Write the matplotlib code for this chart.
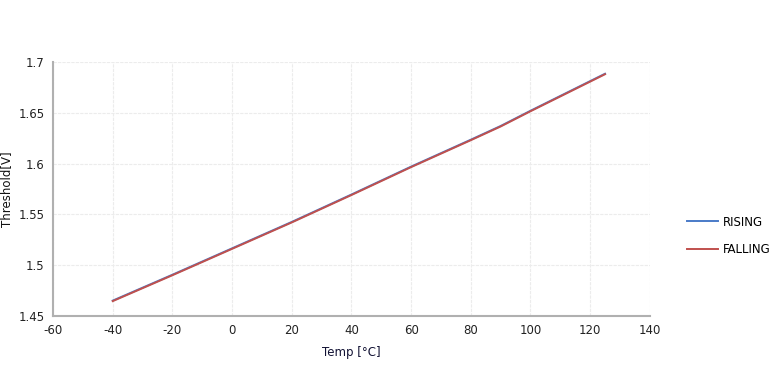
import matplotlib
matplotlib.use("Agg")
import matplotlib.pyplot as plt

temp = [-40, -20, 0, 20, 40, 60, 80, 90, 100, 125]
rising = [1.4650, 1.4905, 1.5165, 1.5425, 1.5695, 1.5970, 1.6235, 1.6370, 1.6520, 1.6885]
falling = [1.4645, 1.4900, 1.5160, 1.5420, 1.5690, 1.5965, 1.6230, 1.6365, 1.6515, 1.6880]

x_ticks = list(range(-60, 141, 20))
y_ticks = [1.45, 1.5, 1.55, 1.6, 1.65, 1.7]
y_labels = ["1.45", "1.5", "1.55", "1.6", "1.65", "1.7"]

plt.rcParams['font.family'] = ['DejaVu Sans']
plt.rcParams['font.size'] = 8.5
plt.rcParams['axes.unicode_minus'] = False

fig = plt.figure(figsize=(7.69, 3.76), dpi=100)
ax = fig.add_axes([0.069, 0.16, 0.776, 0.675])

ax.plot(temp, rising, color='#4a7bc8', lw=1.4, label='RISING')
ax.plot(temp, falling, color='#c0504d', lw=1.4, label='FALLING')

ax.set_xlim(-60, 140)
ax.set_ylim(1.45, 1.7)
ax.set_xticks(x_ticks)
ax.set_yticks(y_ticks)
ax.set_yticklabels(y_labels)
ax.tick_params(length=0, pad=6, colors='#222222')
ax.grid(True, color='#ececec', lw=0.8, ls=(0, (3, 1)))
ax.set_axisbelow(True)

for side in ['top', 'right']:
    ax.spines[side].set_visible(False)
for side in ['left', 'bottom']:
    ax.spines[side].set_color('#b0b0b0')
    ax.spines[side].set_linewidth(1.5)

ax.set_xlabel('Temp [°C]', color='#111133', labelpad=6)
ax.set_ylabel('Threshold[V]', color='#111111', labelpad=4)

ax.legend(loc='center left', bbox_to_anchor=(1.045, 0.315), frameon=False,
          handlelength=2.6, handletextpad=0.4, labelspacing=1.25, fontsize=8.5)

fig.savefig('out.png', dpi=100)
